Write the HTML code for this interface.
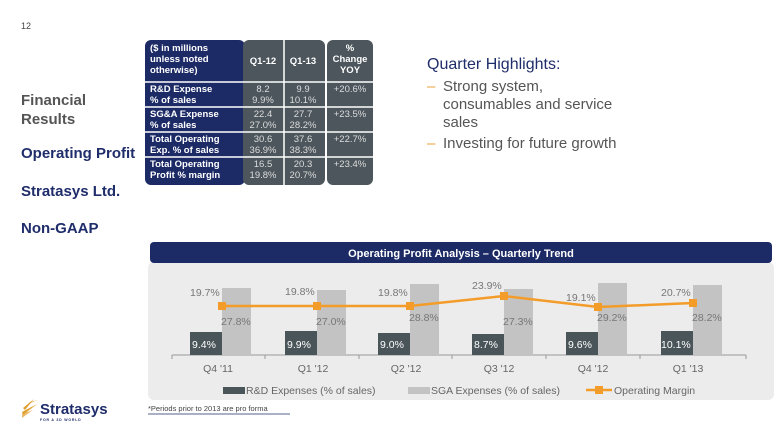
<!DOCTYPE html>
<html><head><meta charset="utf-8"><style>
body{margin:0;width:781px;height:439px;background:#fff;position:relative;overflow:hidden;font-family:"Liberation Sans",sans-serif}
.a{position:absolute}
.nav{color:#1f2d6b;font-weight:bold;font-size:15px}
</style></head><body>
<div class="a" style="left:21px;top:21px;font-size:9px;color:#444">12</div>
<div class="a" style="left:21px;top:91px;font-size:15px;font-weight:bold;color:#555;line-height:19px">Financial<br>Results</div>
<div class="a nav" style="left:21px;top:145px">Operating Profit</div>
<div class="a nav" style="left:21px;top:183px">Stratasys Ltd.</div>
<div class="a nav" style="left:21px;top:220px">Non-GAAP</div>

<svg class="a" style="left:0;top:0" width="781" height="439">
<g font-family="Liberation Sans,sans-serif" font-size="9.5">
<rect x="145" y="40" width="100" height="145" rx="6" fill="#1c2b66"/>
<rect x="243" y="40" width="82" height="145" rx="6" fill="#4c565c"/>
<rect x="327" y="40" width="46" height="145" rx="6" fill="#4c565c"/>
<line x1="284" y1="40" x2="284" y2="185" stroke="#fff" stroke-width="1.5"/>
<g stroke="#fff" stroke-width="1.5">
<line x1="145" y1="82" x2="373" y2="82"/><line x1="145" y1="107" x2="373" y2="107"/><line x1="145" y1="132" x2="373" y2="132"/><line x1="145" y1="157" x2="373" y2="157"/></g>
<g fill="#fff" font-weight="bold"><text x="150" y="51">($ in millions</text><text x="150" y="62">unless noted</text><text x="150" y="73">otherwise)</text>
<text x="263" y="64" text-anchor="middle">Q1-12</text><text x="303" y="64" text-anchor="middle">Q1-13</text>
<text x="350" y="51" text-anchor="middle">%</text><text x="350" y="62" text-anchor="middle">Change</text><text x="350" y="73" text-anchor="middle">YOY</text>
<text x="150" y="92">R&amp;D Expense</text><text x="150" y="103">% of sales</text>
<text x="150" y="117">SG&amp;A Expense</text><text x="150" y="128">% of sales</text>
<text x="150" y="142">Total Operating</text><text x="150" y="153">Exp. % of sales</text>
<text x="150" y="167">Total Operating</text><text x="150" y="178">Profit % margin</text></g>
<g fill="#ddd" text-anchor="middle"><text x="263" y="92">8.2</text><text x="263" y="103">9.9%</text><text x="303" y="92">9.9</text><text x="303" y="103">10.1%</text><text x="350" y="92">+20.6%</text>
<text x="263" y="117">22.4</text><text x="263" y="128">27.0%</text><text x="303" y="117">27.7</text><text x="303" y="128">28.2%</text><text x="350" y="117">+23.5%</text>
<text x="263" y="142">30.6</text><text x="263" y="153">36.9%</text><text x="303" y="142">37.6</text><text x="303" y="153">38.3%</text><text x="350" y="142">+22.7%</text>
<text x="263" y="167">16.5</text><text x="263" y="178">19.8%</text><text x="303" y="167">20.3</text><text x="303" y="178">20.7%</text><text x="350" y="167">+23.4%</text></g>
</g>
<g font-family="Liberation Sans,sans-serif">
<text x="427" y="69" font-size="16" fill="#1f2d6b">Quarter Highlights:</text>
<g font-size="15" fill="#555"><text x="427" y="91" fill="#e8a33a">–</text><text x="443" y="91">Strong system,</text><text x="443" y="109">consumables and service</text><text x="443" y="127">sales</text>
<text x="427" y="148" fill="#e8a33a">–</text><text x="443" y="148">Investing for future growth</text></g>
</g>
<rect x="148" y="262" width="626" height="138" rx="6" fill="#ececec"/>
<rect x="150" y="242" width="622" height="21" rx="4" fill="#1c2b66"/>
<text x="461" y="257" text-anchor="middle" font-family="Liberation Sans,sans-serif" font-size="11" font-weight="bold" fill="#fff">Operating Profit Analysis – Quarterly Trend</text>
<line x1="172" y1="355" x2="746" y2="355" stroke="#999"/>
<g stroke="#999"><line x1="172" y1="355" x2="172" y2="359"/><line x1="265" y1="355" x2="265" y2="359"/><line x1="359" y1="355" x2="359" y2="359"/><line x1="452" y1="355" x2="452" y2="359"/><line x1="546" y1="355" x2="546" y2="359"/><line x1="640" y1="355" x2="640" y2="359"/><line x1="746" y1="355" x2="746" y2="359"/></g>
<g font-family="Liberation Sans,sans-serif" font-size="10.5">
<g fill="#4a555a"><rect x="190" y="332" width="32" height="23"/><rect x="285" y="331" width="32" height="24"/><rect x="378" y="333" width="32" height="22"/><rect x="472" y="334" width="32" height="21"/><rect x="566" y="332" width="32" height="23"/><rect x="661" y="331" width="32" height="24"/></g>
<g fill="#c3c3c3"><rect x="222" y="288" width="29" height="67"/><rect x="317" y="290" width="29" height="65"/><rect x="410" y="284" width="29" height="71"/><rect x="504" y="289" width="29" height="66"/><rect x="598" y="283" width="29" height="72"/><rect x="693" y="285" width="29" height="70"/></g>
<g fill="#fff"><text x="192" y="348">9.4%</text><text x="287" y="348">9.9%</text><text x="380" y="348">9.0%</text><text x="474" y="348">8.7%</text><text x="568" y="348">9.6%</text><text x="661" y="348">10.1%</text></g>
<g fill="#777"><text x="221" y="325">27.8%</text><text x="316" y="325">27.0%</text><text x="409" y="321">28.8%</text><text x="503" y="325">27.3%</text><text x="597" y="321">29.2%</text><text x="692" y="321">28.2%</text>
<text x="190" y="296">19.7%</text><text x="285" y="295">19.8%</text><text x="378" y="296">19.8%</text><text x="472" y="289">23.9%</text><text x="566" y="301">19.1%</text><text x="661" y="296">20.7%</text></g>
<polyline points="222,306 317,306 410,306 504,296 598,307 693,303" fill="none" stroke="#f39c2a" stroke-width="2.5"/>
<g fill="#f39c2a"><rect x="218" y="302" width="8" height="8"/><rect x="313" y="302" width="8" height="8"/><rect x="406" y="302" width="8" height="8"/><rect x="500" y="292" width="8" height="8"/><rect x="594" y="303" width="8" height="8"/><rect x="689" y="299" width="8" height="8"/></g>
<g fill="#666" text-anchor="middle"><text x="218" y="372">Q4 '11</text><text x="313" y="372">Q1 '12</text><text x="406" y="372">Q2 '12</text><text x="499" y="372">Q3 '12</text><text x="593" y="372">Q4 '12</text><text x="688" y="372">Q1 '13</text></g>
<rect x="223" y="387" width="22" height="7" fill="#4a555a"/><text x="246" y="394" fill="#666">R&amp;D Expenses (% of sales)</text>
<rect x="408" y="387" width="22" height="7" fill="#c3c3c3"/><text x="431" y="394" fill="#666">SGA Expenses (% of sales)</text>
<line x1="586" y1="390" x2="612" y2="390" stroke="#f39c2a" stroke-width="2.5"/><rect x="595" y="386" width="8" height="8" fill="#f39c2a"/><text x="614" y="394" fill="#666">Operating Margin</text>
</g>
<text x="148" y="411" font-family="Liberation Sans,sans-serif" font-size="7.5" fill="#444">*Periods prior to 2013 are pro forma</text>
<line x1="148" y1="414" x2="290" y2="414" stroke="#1c2b66" stroke-width="0.7"/>
<g fill="#e0a030"><path d="M37,404 L22,412 L23,415Z"/><path d="M34,399 L23,408 L25,410Z"/><path d="M38,400 L30,402 L28,404Z" opacity=".7"/><path d="M33,410 L22,418 L22,414Z" opacity=".7"/></g>
<text x="40" y="414" font-family="Liberation Sans,sans-serif" font-size="15" font-weight="bold" fill="#1f2d6b">Stratasys</text>
<text x="40" y="421" font-family="Liberation Sans,sans-serif" font-size="3.5" font-weight="bold" fill="#1f2d6b" letter-spacing=".8">FOR A 3D WORLD</text>
</svg>
</body></html>
